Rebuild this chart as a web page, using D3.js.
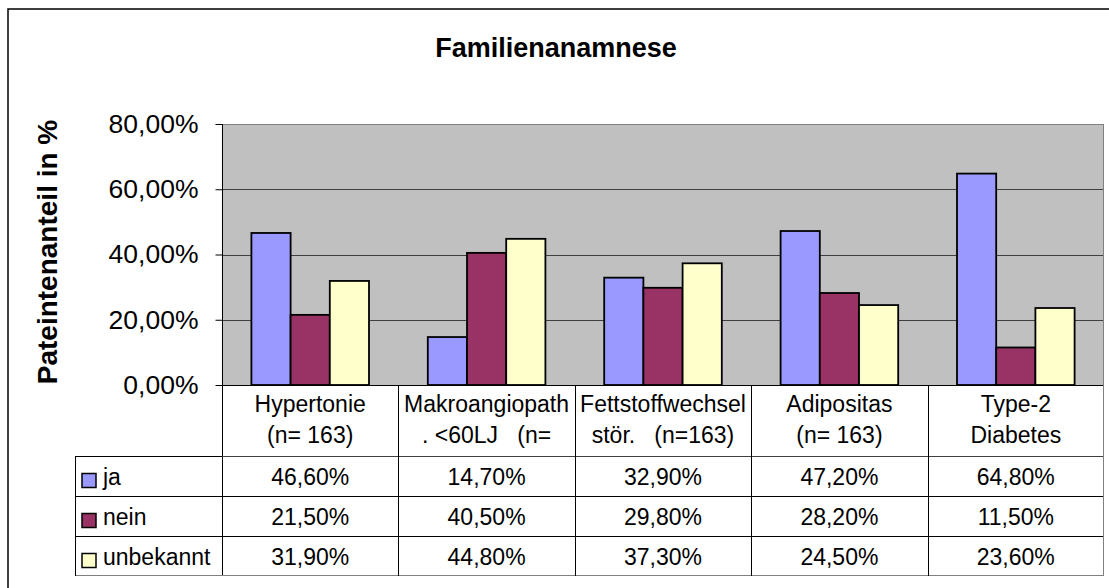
<!DOCTYPE html>
<html>
<head>
<meta charset="utf-8">
<script src="https://cdn.jsdelivr.net/npm/d3@7"></script>
<style>
  body { margin: 0; background: #fff; }
  svg { display: block; font-family: Arial, "Liberation Sans", sans-serif; }
  text { white-space: pre; }
</style>
</head>
<body>
<svg id="chart" width="1109" height="588"></svg>
<script>
var categories = ["Hypertonie", "Makroangiopath", "Fettstoffwechsel", "Adipositas", "Type-2 Diabetes"]
var categoryLines = [
  ["Hypertonie", "(n= 163)"],
  ["Makroangiopath", ". <60LJ   (n="],
  ["Fettstoffwechsel", "stör.   (n=163)"],
  ["Adipositas", "(n= 163)"],
  ["Type-2", "Diabetes"]
]
var seriesNames = ["ja", "nein", "unbekannt"]
var ja = [0.466, 0.147, 0.329, 0.472, 0.648]
var nein = [0.215, 0.405, 0.298, 0.282, 0.115]
var unbekannt = [0.319, 0.448, 0.373, 0.245, 0.236]
var yTicks = [0, 0.2, 0.4, 0.6, 0.8]
var colors = ["#9999FF", "#993366", "#FFFFCC"]

var values = [ja, nein, unbekannt]

var de = d3.formatLocale({decimal: ",", thousands: ".", grouping: [3], currency: ["", " €"]})
var pct = de.format(".2%")

var svg = d3.select("#chart")

// outer chart frame (right/bottom fall outside the picture)
svg.append("rect")
   .attr("x", 8).attr("y", 9)
   .attr("width", 1115).attr("height", 600)
   .attr("fill", "none").attr("stroke", "#000").attr("stroke-width", 1.5)

var plotLeft = 222, plotRight = 1104, plotTop = 124, plotBottom = 385

var x0 = d3.scaleBand()
           .domain(categories)
           .range([plotLeft, plotRight])
           .padding(0)

var x1 = d3.scaleBand()
           .domain(seriesNames)
           .range([0, x0.bandwidth()])
           .paddingInner(0)
           .paddingOuter(0.75)

var y = d3.scaleLinear()
          .domain([0, 0.8])
          .range([plotBottom, plotTop])

// plot background
svg.append("rect")
   .attr("x", plotLeft).attr("y", plotTop)
   .attr("width", plotRight - plotLeft).attr("height", plotBottom - plotTop)
   .attr("fill", "#C0C0C0")

// gridlines
svg.append("g").selectAll("line")
   .data(yTicks.slice(1, 4)).enter()
   .append("line")
   .attr("x1", plotLeft).attr("x2", plotRight)
   .attr("y1", d => Math.round(y(d)) + 0.5).attr("y2", d => Math.round(y(d)) + 0.5)
   .attr("stroke", "#404040")

// plot border top/right
svg.append("path")
   .attr("d", "M" + plotLeft + "," + (plotTop + 0.5) + "H" + (plotRight - 0.5) + "V" + plotBottom)
   .attr("fill", "none").attr("stroke", "#808080")

// bars
var groups = svg.append("g").selectAll("g")
   .data(seriesNames).enter()
   .append("g")
   .attr("fill", (d, i) => colors[i])

groups.selectAll("rect")
   .data((s, i) => values[i].map((v, j) => ({cat: categories[j], series: s, v: v})))
   .enter()
   .append("rect")
   .attr("x", d => x0(d.cat) + x1(d.series))
   .attr("y", d => y(d.v))
   .attr("width", x1.bandwidth())
   .attr("height", d => y(0) - y(d.v))
   .attr("stroke", "#000")
   .attr("stroke-width", 1.8)

// y axis
var axisY = d3.axisLeft(y)
              .tickValues(yTicks)
              .tickFormat(pct)
              .tickSize(7)
              .tickPadding(17)

var gy = svg.append("g")
   .attr("transform", "translate(" + (plotLeft + 0.5) + ",0)")
   .call(axisY)
gy.select(".domain").remove()
gy.selectAll(".tick line").attr("stroke", "#000")
gy.selectAll(".tick text")
  .attr("font-size", 26.5)
  .attr("fill", "#000")
  .attr("font-family", null)

// axis line (continues down through the table header)
svg.append("line")
   .attr("x1", plotLeft + 0.5).attr("x2", plotLeft + 0.5)
   .attr("y1", plotTop).attr("y2", 576)
   .attr("stroke", "#000")
svg.append("line")
   .attr("x1", plotLeft).attr("x2", plotRight)
   .attr("y1", plotBottom + 0.5).attr("y2", plotBottom + 0.5)
   .attr("stroke", "#000")

// title
svg.append("text")
   .attr("x", 556).attr("y", 57)
   .attr("text-anchor", "middle")
   .attr("font-size", 27).attr("font-weight", "bold")
   .text("Familienanamnese")

svg.append("text")
   .attr("transform", "translate(57,252) rotate(-90)")
   .attr("text-anchor", "middle")
   .attr("font-size", 28).attr("font-weight", "bold")
   .text("Pateintenanteil in %")

// data table
var tableLeft = 75
var rowTops = [456, 496, 536]
var rowH = 40
var tableBottom = 576

var table = svg.append("g")

// horizontal lines
table.append("line")
   .attr("x1", plotLeft).attr("x2", plotRight)
   .attr("y1", 456.5).attr("y2", 456.5).attr("stroke", "#404040")
table.append("line")
   .attr("x1", tableLeft).attr("x2", plotLeft)
   .attr("y1", 456.5).attr("y2", 456.5).attr("stroke", "#000")
table.selectAll(".hl")
   .data([496, 536]).enter()
   .append("line")
   .attr("x1", tableLeft).attr("x2", plotRight)
   .attr("y1", d => d + 0.5).attr("y2", d => d + 0.5)
   .attr("stroke", "#000")
table.append("line")
   .attr("x1", tableLeft).attr("x2", plotRight)
   .attr("y1", tableBottom - 0.5).attr("y2", tableBottom - 0.5)
   .attr("stroke", "#808080")

// vertical lines
table.append("line")
   .attr("x1", tableLeft + 0.5).attr("x2", tableLeft + 0.5)
   .attr("y1", 456).attr("y2", tableBottom)
   .attr("stroke", "#000")
table.selectAll(".vl")
   .data(categories.slice(1)).enter()
   .append("line")
   .attr("x1", d => Math.round(x0(d)) + 0.5).attr("x2", d => Math.round(x0(d)) + 0.5)
   .attr("y1", plotBottom).attr("y2", tableBottom)
   .attr("stroke", "#000")
table.append("line")
   .attr("x1", plotRight - 0.5).attr("x2", plotRight - 0.5)
   .attr("y1", plotTop).attr("y2", tableBottom)
   .attr("stroke", "#808080")

// category labels
table.selectAll(".cat")
   .data(categories).enter()
   .append("text")
   .attr("text-anchor", "middle")
   .attr("font-size", 23)
   .each(function(d, i) {
     var t = d3.select(this)
     categoryLines[i].forEach(function(line, k) {
       t.append("tspan")
        .attr("x", x0(d) + x0.bandwidth() / 2)
        .attr("y", 412 + k * 31)
        .text(line)
     })
   })

// values
values.forEach(function(vals, r) {
  table.selectAll(".v" + r)
     .data(vals).enter()
     .append("text")
     .attr("x", (v, j) => x0(categories[j]) + x0.bandwidth() / 2)
     .attr("y", rowTops[r] + rowH / 2 + 8.5)
     .attr("text-anchor", "middle")
     .attr("font-size", 23)
     .text(v => pct(v))
})

// legend keys
table.selectAll(".key")
   .data(seriesNames).enter()
   .append("rect")
   .attr("x", 82).attr("y", (d, i) => rowTops[i] + 17.5)
   .attr("width", 14).attr("height", 14)
   .attr("fill", (d, i) => colors[i])
   .attr("stroke", "#000").attr("stroke-width", 1.5)

table.selectAll(".keylabel")
   .data(seriesNames).enter()
   .append("text")
   .attr("x", 103).attr("y", (d, i) => rowTops[i] + rowH / 2 + 8.5)
   .attr("font-size", 23)
   .text(d => d)
</script>
</body>
</html>
